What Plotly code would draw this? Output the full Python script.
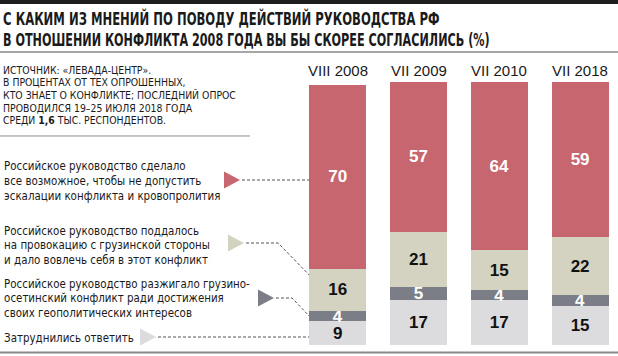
import json
import plotly.graph_objects as go

# ---------------- data ----------------
periods = ["VIII 2008", "VII 2009", "VII 2010", "VII 2018"]
did_everything = [70, 57, 64, 59]
provoked = [16, 21, 15, 22]
instigated = [4, 5, 4, 4]
hard_to_say = [9, 17, 17, 15]

series_names = [
    "Затруднились ответить",
    "Российское руководство разжигало грузино-осетинский конфликт",
    "Российское руководство поддалось на провокацию",
    "Российское руководство сделало все возможное",
]

title_lines = [
    "С КАКИМ ИЗ МНЕНИЙ ПО ПОВОДУ ДЕЙСТВИЙ РУКОВОДСТВА РФ",
    "В ОТНОШЕНИИ КОНФЛИКТА 2008 ГОДА ВЫ БЫ СКОРЕЕ СОГЛАСИЛИСЬ (%)",
]
source_lines = [
    "ИСТОЧНИК: «ЛЕВАДА-ЦЕНТР».",
    "В ПРОЦЕНТАХ ОТ ТЕХ ОПРОШЕННЫХ,",
    "КТО ЗНАЕТ О КОНФЛИКТЕ; ПОСЛЕДНИЙ ОПРОС",
    "ПРОВОДИЛСЯ 19–25 ИЮЛЯ 2018 ГОДА",
    "СРЕДИ <b>1,6</b> ТЫС. РЕСПОНДЕНТОВ.",
]
legend_texts = [
    ["Российское руководство сделало", "все возможное, чтобы не допустить", "эскалации конфликта и кровопролития"],
    ["Российское руководство поддалось", "на провокацию с грузинской стороны", "и дало вовлечь себя в этот конфликт"],
    ["Российское руководство разжигало грузино-", "осетинский конфликт ради достижения", "своих геополитических интересов"],
    ["Затруднились ответить"],
]

# ---------------- style ----------------
W, H = 618, 356
RED, BEIGE, DARK, LIGHT = "#c8666f", "#d4d3c2", "#7b7e87", "#dcdcdf"
NARROW = "DejaVu Sans Condensed, sans-serif"
SANS = "Liberation Sans, Arial, sans-serif"

# pixel geometry of the bar area
BAR_CENTER0, BAR_STEP, BAR_W_PX = 337.7, 80.8, 57.0
Y0_PX, PX_PER_UNIT = 345.0, 2.63


def px(x):
    return x / W


def py(y):
    return 1 - y / H


def poly(points, close=False):
    s = "M " + " L ".join(f"{px(a):.5f} {py(b):.5f}" for a, b in points)
    return s + (" Z" if close else "")


fig = go.Figure()
stack = [
    (hard_to_say, LIGHT, "#111111", series_names[0]),
    (instigated, DARK, "#ffffff", series_names[1]),
    (provoked, BEIGE, "#111111", series_names[2]),
    (did_everything, RED, "#ffffff", series_names[3]),
]
for vals, col, tcol, name in stack:
    fig.add_trace(go.Bar(
        x=list(range(len(periods))), y=vals, name=name,
        width=BAR_W_PX / BAR_STEP,
        marker=dict(color=col, line=dict(width=0)),
        text=[str(v) for v in vals], texttemplate="%{text}",
        textposition="inside", insidetextanchor="middle", textangle=0,
        textfont=dict(family=SANS, size=17, color=tcol, weight="bold"),
        hoverinfo="skip",
    ))

shapes = []
annotations = []
squeeze = {}  # annotation index -> horizontal squeeze factor (condensed look)

# top black band
shapes.append(dict(type="path", xref="paper", yref="paper",
                   path=poly([(0, 0), (W, 0), (W, 4), (0, 4)], close=True),
                   fillcolor="#1e1e1e", line=dict(width=0)))
# rules: under title, at bottom, under source
for pts, col, wd in [
    ([(0, 52), (W, 52)], "#8a8a8a", 1.5),
    ([(0, 352.5), (W, 352.5)], "#8a8a8a", 2),
    ([(0, 136), (250, 136)], "#8a8a8a", 1),
]:
    shapes.append(dict(type="path", xref="paper", yref="paper", path=poly(pts),
                       line=dict(color=col, width=wd)))

# title
for i, (t, s) in enumerate(zip(title_lines, [0.717, 0.691])):
    squeeze[len(annotations)] = s
    annotations.append(dict(text="<b>" + t + "</b>", xref="paper", yref="paper", x=px(1), y=py(18.5 + 21 * i),
                            xanchor="left", yanchor="middle", showarrow=False,
                            font=dict(family=NARROW, size=18, color="#1a1a1a")))
# source
for i, t in enumerate(source_lines):
    squeeze[len(annotations)] = 0.96
    annotations.append(dict(text=t, xref="paper", yref="paper", x=px(1), y=py(70 + 12.7 * i),
                            xanchor="left", yanchor="middle", showarrow=False,
                            font=dict(family=NARROW, size=10.8, color="#1a1a1a")))
# period labels
for i, p in enumerate(periods):
    annotations.append(dict(text=p, xref="x", yref="paper", x=i, y=py(70),
                            xanchor="center", yanchor="middle", showarrow=False,
                            font=dict(family=SANS, size=15, color="#1a1a1a")))

# legend texts
legend_first_y = [166, 230, 283, 337]
for grp, y0 in zip(legend_texts, legend_first_y):
    for j, t in enumerate(grp):
        squeeze[len(annotations)] = 0.88
        annotations.append(dict(text=t, xref="paper", yref="paper", x=px(2), y=py(y0 + 14.8 * j),
                                xanchor="left", yanchor="middle", showarrow=False,
                                font=dict(family=NARROW, size=13, color="#1a1a1a")))

# markers (triangles) and dashed connectors
bar_left = BAR_CENTER0 - BAR_W_PX / 2
markers = [
    (RED, 240, 180, [(242, 180), (bar_left, 180)]),
    (BEIGE, 244, 243, [(246, 243), (278, 243), (bar_left, 275)]),
    (DARK, 274, 298, [(276, 298), (292, 298), (bar_left, 316)]),
    (LIGHT, 156, 337, [(158, 337), (bar_left, 337)]),
]
for col, tx, ty, path in markers:
    w, h = 16, 17
    shapes.append(dict(type="path", xref="paper", yref="paper",
                       path=poly([(tx - w, ty - h / 2), (tx, ty), (tx - w, ty + h / 2)], close=True),
                       fillcolor=col, line=dict(width=0)))
    shapes.append(dict(type="path", xref="paper", yref="paper", path=poly(path),
                       line=dict(color="#555555", width=1, dash="3px,2px")))

x_lo = (0 - BAR_CENTER0) / BAR_STEP
x_hi = (W - BAR_CENTER0) / BAR_STEP
y_lo = -(H - Y0_PX) / PX_PER_UNIT
y_hi = Y0_PX / PX_PER_UNIT

fig.update_layout(
    width=W, height=H, margin=dict(l=0, r=0, t=0, b=0),
    paper_bgcolor="white", plot_bgcolor="white",
    barmode="stack", showlegend=False,
    xaxis=dict(range=[x_lo, x_hi], visible=False, fixedrange=True),
    yaxis=dict(range=[y_lo, y_hi], visible=False, fixedrange=True),
    uniformtext=dict(minsize=16, mode="show"),
    shapes=shapes, annotations=annotations,
)

post = (
    "document.body.style.margin='0';"
    "var sq=" + json.dumps({str(k): v for k, v in squeeze.items()}) + ";"
    "var gd=document.getElementById('{plot_id}');"
    "gd.querySelectorAll('g.annotation').forEach(function(g){"
    "var s=sq[g.getAttribute('data-index')]; if(!s) return;"
    "var t=g.querySelector('text.annotation-text'); if(!t) return;"
    "t.style.transformBox='fill-box'; t.style.transformOrigin='0% 50%';"
    "t.style.transform='scaleX('+s+')';});"
)

fig.write_html("out.html", config={"displayModeBar": False}, post_script=post)
